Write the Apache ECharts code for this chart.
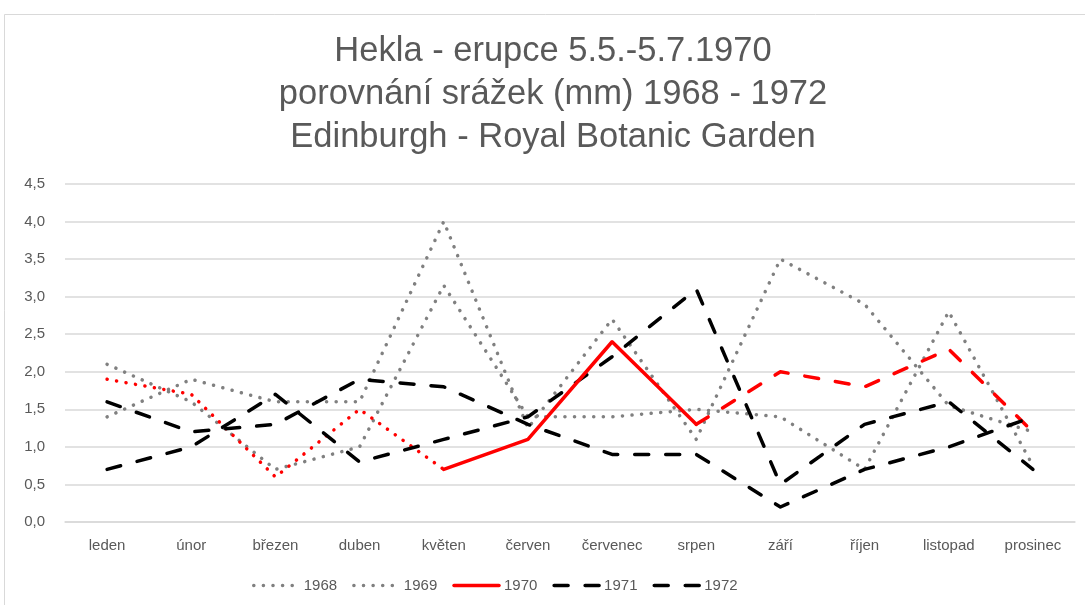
<!DOCTYPE html>
<html>
<head>
<meta charset="utf-8">
<script src="https://cdn.jsdelivr.net/npm/echarts@6/dist/echarts.min.js"></script>
<style>
  html, body { margin: 0; padding: 0; background: #fff; }
  #chart { width: 1085px; height: 605px; }
</style>
</head>
<body>
<div id="chart"></div>
<script>
// mesice
const months = ['leden', 'únor', 'březen', 'duben', 'květen', 'červen', 'červenec', 'srpen', 'září', 'říjen', 'listopad', 'prosinec']

// srazky (mm)
const rain1968 = [2.1, 1.6, 0.7, 1.0, 3.15, 1.4, 1.4, 1.5, 1.4, 0.7, 2.8, 0.75]
const rain1969 = [1.4, 1.9, 1.6, 1.6, 4.0, 1.25, 2.7, 1.1, 3.5, 2.9, 1.55, 1.2]
const rain1970 = [1.9, 1.7, 0.6, 1.5, 0.7, 1.1, 2.4, 1.3, 2.0, 1.8, 2.3, 1.2]
const rain1971 = [1.6, 1.2, 1.3, 1.9, 1.8, 1.3, 0.9, 0.9, 0.2, 0.7, 1.0, 1.4]
const rain1972 = [0.7, 1.0, 1.7, 0.8, 1.1, 1.4, 2.2, 3.1, 0.5, 1.3, 1.6, 0.7]

// 1970: pred erupci teckovane, behem erupce plna, po ni carkovane
const eruptFrom = 4
const eruptTo = 7

const part = (arr, from, to) => arr.map((v, i) => (i >= from && i <= to ? v : null))

const DOT = [0.1, 9.5]
const DASH = [14, 17]
const grey = '#808080'

function line (name, data, color, type, width) {
  return {
    name: name,
    type: 'line',
    data: data,
    symbol: 'none',
    connectNulls: false,
    lineStyle: {
      color: color,
      width: width || 3.5,
      type: type,
      cap: 'round',
      join: 'round'
    },
    itemStyle: { color: color },
    emphasis: { disabled: true }
  }
}

const chart = echarts.init(document.getElementById('chart'))

const option = {
  backgroundColor: '#fff',
  animation: false,
  textStyle: { fontFamily: 'Liberation Sans' },
  title: {
    text: 'Hekla - erupce 5.5.-5.7.1970\nporovnání srážek (mm) 1968 - 1972\nEdinburgh - Royal Botanic Garden',
    left: 548,
    textAlign: 'center',
    top: 25,
    textStyle: {
      fontFamily: 'Liberation Sans',
      fontSize: 34.5,
      fontWeight: 'normal',
      color: '#595959',
      lineHeight: 43
    }
  },
  graphic: [
    {
      type: 'rect',
      shape: { x: 4.5, y: 14.5, width: 1200, height: 700 },
      style: { fill: 'none', stroke: '#d9d9d9', lineWidth: 1 },
      silent: true
    }
  ],
  legend: {
    data: ['1968', '1969', '1970', '1971', '1972'],
    bottom: 7,
    left: 247,
    itemWidth: 45,
    itemHeight: 14,
    itemGap: 15,
    itemStyle: { opacity: 0 },
    lineStyle: { width: 3.5 },
    textStyle: { color: '#595959', fontSize: 15 }
  },
  grid: {
    left: 65,
    right: 10,
    top: 184,
    bottom: 83
  },
  xAxis: {
    type: 'category',
    data: months,
    boundaryGap: true,
    axisLine: { show: true, lineStyle: { color: '#d9d9d9', width: 1.5 } },
    axisTick: { show: false },
    axisLabel: { color: '#595959', fontSize: 15, margin: 16, interval: 0 }
  },
  yAxis: {
    type: 'value',
    min: 0,
    max: 4.5,
    interval: 0.5,
    axisLine: { show: false },
    axisTick: { show: false },
    axisLabel: {
      color: '#595959',
      fontSize: 15,
      margin: 20,
      formatter: v => v.toFixed(1).replace('.', ',')
    },
    splitLine: { lineStyle: { color: '#d9d9d9', width: 1.5 } }
  },
  series: [
    line('1968', rain1968, grey, DOT),
    line('1969', rain1969, grey, DOT),
    line('1970 před', part(rain1970, 0, eruptFrom), '#ff0000', DOT),
    line('1970 po', part(rain1970, eruptTo, 11), '#ff0000', DASH),
    line('1971', rain1971, '#000000', DASH),
    line('1972', rain1972, '#000000', DASH),
    line('1970', part(rain1970, eruptFrom, eruptTo), '#ff0000', 'solid')
  ]
}

chart.setOption(option)
window.addEventListener('resize', () => chart.resize())
</script>
</body>
</html>
